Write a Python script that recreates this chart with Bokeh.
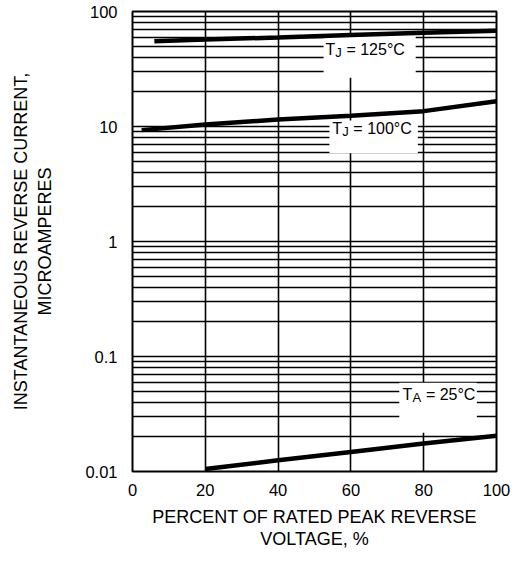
from bokeh.plotting import figure
from bokeh.models import FixedTicker, CustomJSTickFormatter, Range1d
from bokeh.core.properties import value
from bokeh.embed import file_html
from bokeh.resources import INLINE

# ---- data ----
pct_125 = [6, 20, 40, 60, 80, 100]
cur_125 = [55, 57, 59.5, 62.5, 65.5, 68]

pct_100 = [2.5, 20, 40, 60, 80, 100]
cur_100 = [9.3, 10.4, 11.5, 12.4, 13.6, 16.6]

pct_25 = [20, 40, 60, 80, 100]
cur_25 = [0.0105, 0.0125, 0.0148, 0.0175, 0.0205]

x_ticks = [0, 20, 40, 60, 80, 100]
x_grid = [20, 40, 60, 80]
y_ticks = [0.01, 0.1, 1, 10, 100]
y_grid = [round(m * 10.0 ** e, 6) for e in range(-2, 2) for m in range(1, 10)] + [100]

# label: main letter, subscript, rest, anchor x, anchor y, box (x0, x1, y0, y1)
labels = [
    ("T", "J", "= 125°C", 53.0, 46.5, (52.5, 77.8, 26.5, 62.0)),
    ("T", "J", "= 100°C", 54.9, 9.6, (54.1, 78.4, 5.85, 11.3)),
    ("T", "A", "= 25°C", 74.2, 0.0465, (73.3, 94.6, 0.0217, 0.059)),
]

FONT = "Liberation Sans"

p = figure(width=510, height=551, y_axis_type="log",
           x_range=Range1d(0, 100), y_range=Range1d(0.01, 100),
           output_backend="svg", toolbar_location=None,
           min_border_left=132, min_border_right=14,
           min_border_top=11, min_border_bottom=79)

p.background_fill_color = "white"
p.border_fill_color = "white"
p.outline_line_color = "black"
p.outline_line_width = 2

# grid
p.xgrid.ticker = FixedTicker(ticks=x_grid)
p.ygrid.ticker = FixedTicker(ticks=y_grid)
for g in (p.xgrid, p.ygrid):
    g.grid_line_color = "black"
    g.grid_line_width = 1.6
    g.grid_line_alpha = 1.0

# axes
p.xaxis.ticker = FixedTicker(ticks=x_ticks)
p.yaxis.ticker = FixedTicker(ticks=y_ticks)
p.yaxis.formatter = CustomJSTickFormatter(code="return tick.toString();")
for ax in (p.xaxis, p.yaxis):
    ax.axis_line_color = None
    ax.major_tick_line_color = None
    ax.minor_tick_line_color = None
    ax.major_label_text_font = FONT
    ax.major_label_text_font_size = "16.5px"
    ax.major_label_text_color = "black"
    ax.axis_label_text_font = FONT
    ax.axis_label_text_font_size = "18px"
    ax.axis_label_text_font_style = "normal"
    ax.axis_label_text_color = "black"
p.xaxis.axis_label_text_line_height = 1.1
p.yaxis.axis_label_text_line_height = 1.2
p.xaxis.major_label_standoff = 6
p.yaxis.major_label_standoff = 9
p.xaxis.axis_label = "PERCENT OF RATED PEAK REVERSE\nVOLTAGE, %"
p.yaxis.axis_label = "INSTANTANEOUS REVERSE CURRENT,\nMICROAMPERES"
p.xaxis.axis_label_standoff = 8
p.yaxis.axis_label_standoff = 27

# white label boxes covering the grid
p.quad(left=[b[5][0] for b in labels], right=[b[5][1] for b in labels],
       bottom=[b[5][2] for b in labels], top=[b[5][3] for b in labels],
       fill_color="white", line_color=None)

# curves
for xs, ys in ((pct_125, cur_125), (pct_100, cur_100), (pct_25, cur_25)):
    p.line(xs, ys, line_color="black", line_width=4.5, line_cap="butt")

# labels with subscripts
for main, sub, rest, lx, ly, _ in labels:
    sub_w = 6.5 if sub == "J" else 8.8
    p.text(x=[lx], y=[ly], text=[main], text_font=value(FONT),
           text_font_size="16px", text_baseline="middle", text_align="left",
           text_color="black")
    p.text(x=[lx], y=[ly], text=[sub], text_font=value(FONT),
           text_font_size="13px", text_baseline="middle", text_align="left",
           text_color="black", x_offset=9.9, y_offset=2.5)
    p.text(x=[lx], y=[ly], text=[rest], text_font=value(FONT),
           text_font_size="16px", text_baseline="middle", text_align="left",
           text_color="black", x_offset=9.9 + sub_w + 4.6)

open("out.html", "w").write(file_html(p, INLINE))
